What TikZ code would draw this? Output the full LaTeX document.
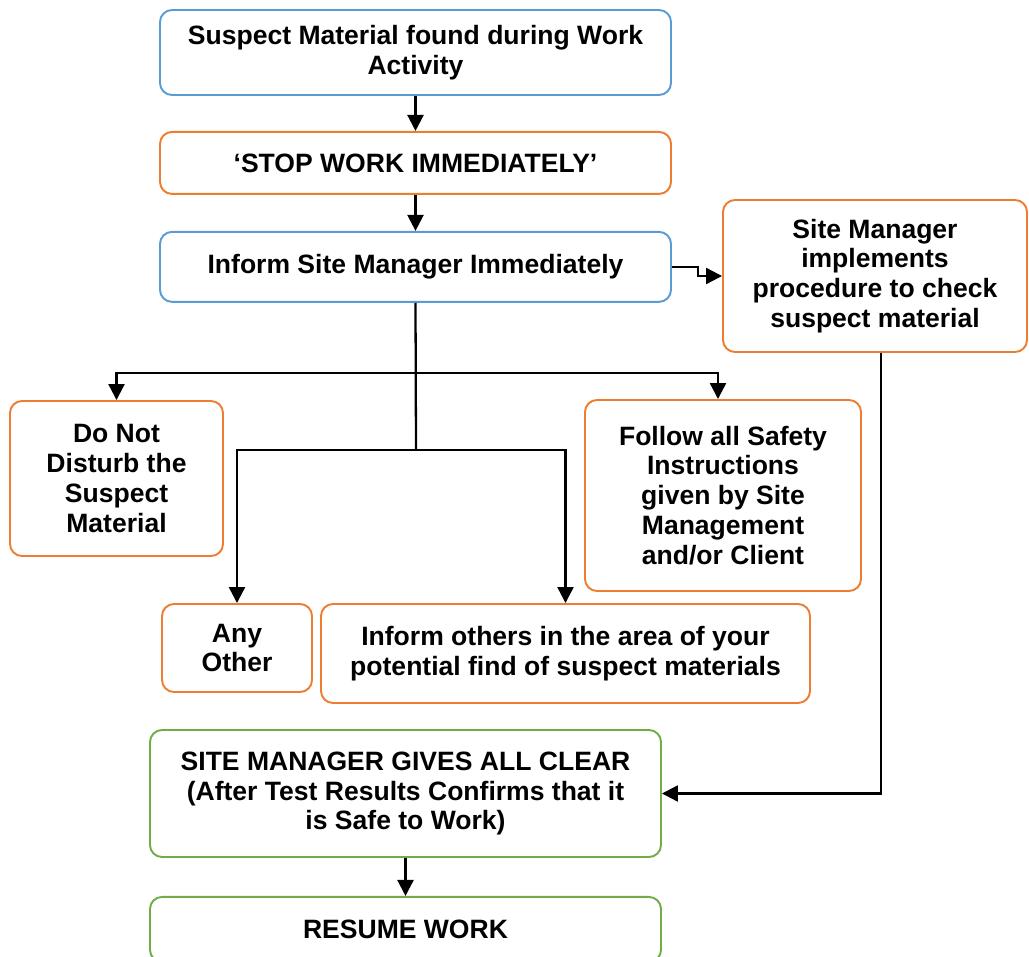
\documentclass[tikz,border=0pt]{standalone}
\usepackage{fontspec}
\setmainfont{Liberation Sans}
\usetikzlibrary{arrows.meta,positioning}
\definecolor{boxBlue}{RGB}{ 91,155,213}
\definecolor{boxOrange}{RGB}{237,125, 49}
\definecolor{boxGreen}{RGB}{112,173, 71}
\tikzset{
  bx/.style   ={rectangle, rounded corners=2.4mm, line width=1.1pt, fill=white,
                 align=center, font=\fontsize{15.1}{17}\selectfont\bfseries, inner sep=2pt},
  bB/.style   ={bx, draw=boxBlue},
  bO/.style   ={bx, draw=boxOrange},
  bG/.style   ={bx, draw=boxGreen},
  fl/.style   ={-{Triangle[length=3.2mm,width=3.2mm]}, line width=1.3pt, draw=black},
  ln/.style   ={line width=1.3pt, draw=black},
}

\begin{document}
\begin{tikzpicture}[x=0.2mm,y=-0.2mm]
\useasboundingbox (0,0) rectangle (1029,957);
\node[bB, minimum width=102.2mm, minimum height=17mm] (find) at (415.5,52.5)
   {Suspect Material found during Work\\Activity};
\node[bO, minimum width=102.2mm, minimum height=12.4mm, below=7mm of find] (stop)
   {`STOP WORK IMMEDIATELY'};
\node[bB, minimum width=102.2mm, minimum height=14mm, below=7.2mm of stop] (inform)
   {Inform Site Manager Immediately};
\node[bO, minimum width=60.8mm, minimum height=30.4mm] (check) at (875,276)
   {Site Manager\\implements\\procedure to check\\suspect material};
\node[bO, minimum width=42.6mm, minimum height=31mm] (nodist) at (116.5,478.5)
   {Do Not\\Disturb the\\Suspect\\Material};
\node[bO, minimum width=55.2mm, minimum height=38.2mm] (safety) at (723,495.5)
   {Follow all Safety\\Instructions\\given by Site\\Management\\and/or Client};
\node[bO, minimum width=30mm, minimum height=17.6mm] (other) at (237,648)
   {Any\\Other};
\node[bO, minimum width=97.8mm, minimum height=19.8mm] (others) at (565.5,653.5)
   {Inform others in the area of your\\potential find of suspect materials};
\node[bG, minimum width=102.2mm, minimum height=25.4mm] (clear) at (405.5,793.5)
   {SITE MANAGER GIVES ALL CLEAR\\(After Test Results Confirms that it\\is Safe to Work)};
\node[bG, minimum width=102.2mm, minimum height=13mm, below=7.6mm of clear] (resume)
   {RESUME WORK};

\coordinate (j1) at (416,373);
\coordinate (j2) at (416,450);

\draw[fl] (find) -- (stop);
\draw[fl] (stop) -- (inform);
\draw[fl] (inform.east) -- ++(26,0) |- (check.west);
\draw[ln] (inform.south) -- (j2);
\draw[fl] (j1) -| (nodist.north);
\draw[fl] (j1) -| ([xshift=-1mm]safety.north);
\draw[fl] (j2) -| (other.north);
\draw[fl] (j2) -| (others.north);
\draw[fl] ([xshift=1.2mm]check.south) |- (clear.east);
\draw[fl] (clear) -- (resume);
\end{tikzpicture}
\end{document}
